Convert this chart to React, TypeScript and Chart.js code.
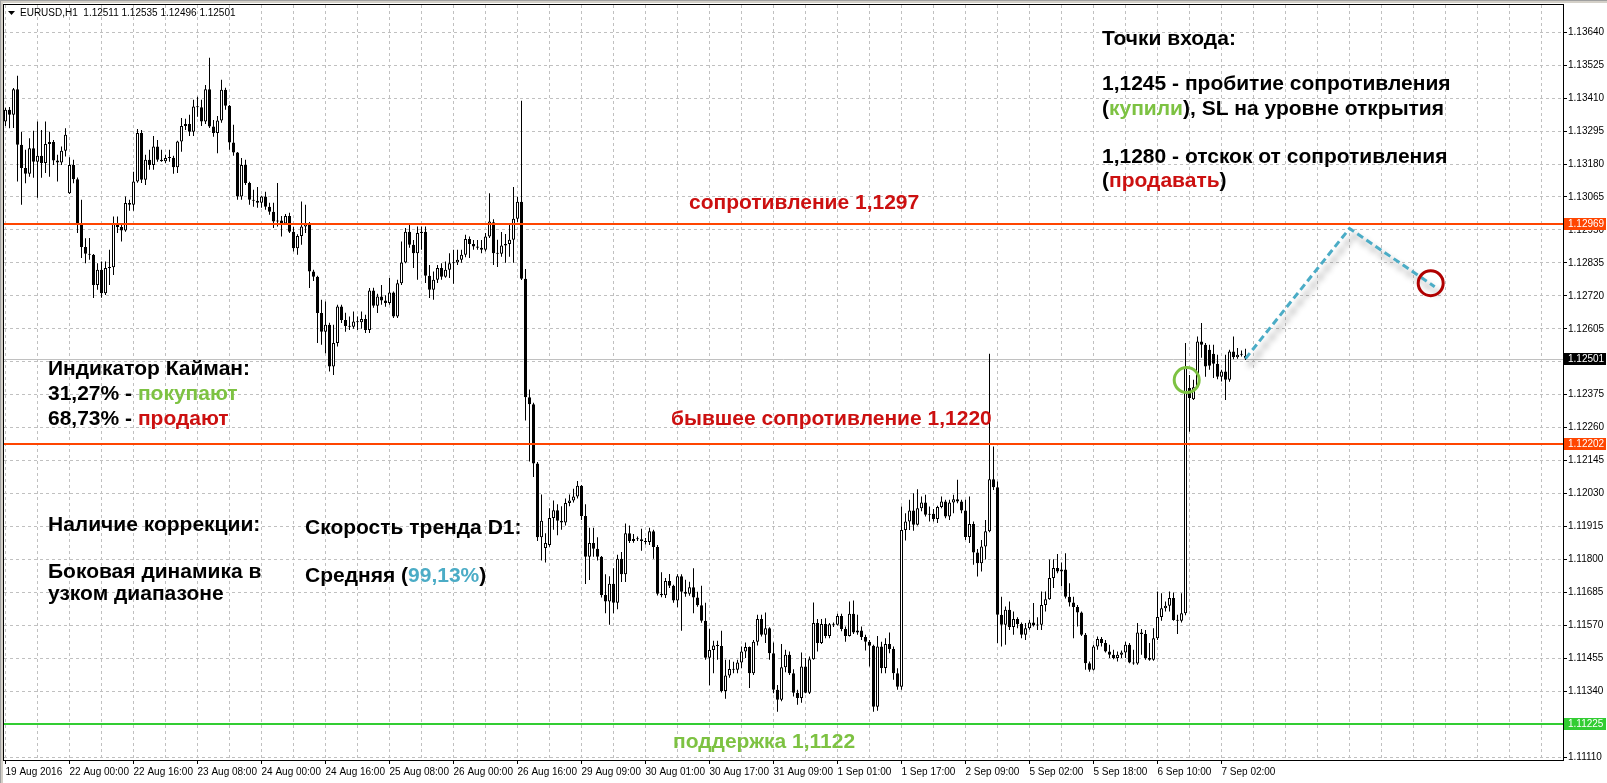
import { useEffect, useRef } from 'react';
import { Chart, registerables } from 'chart.js';

Chart.register(...registerables);

// ---- EURUSD H1 quotes ----
const symbolName = 'EURUSD,H1';

const opens = [
  1.13328,1.13369,1.13352,1.13441,1.13247,1.13166,1.13146,1.13235,1.13188,1.13209,
  1.13184,1.13250,1.13257,1.13192,1.13185,1.13226,1.13078,1.13177,1.13127,1.12974,
  1.12890,1.12867,1.12863,1.12758,1.12811,1.12729,1.12817,1.12820,1.12974,1.12960,
  1.12948,1.13044,1.13038,1.13119,1.13288,1.13125,1.13195,1.13177,1.13241,1.13195,
  1.13190,1.13201,1.13202,1.13169,1.13259,1.13313,1.13320,1.13293,1.13381,1.13378,
  1.13328,1.13441,1.13311,1.13288,1.13332,1.13439,1.13383,1.13255,1.13220,1.13067,
  1.13177,1.13114,1.13055,1.13052,1.13045,1.13067,1.13031,1.13013,1.12979,1.12983,
  1.12972,1.12999,1.12944,1.12886,1.12929,1.12962,1.12974,1.12805,1.12787,1.12660,
  1.12595,1.12619,1.12473,1.12555,1.12683,1.12636,1.12615,1.12612,1.12630,1.12628,
  1.12639,1.12601,1.12739,1.12685,1.12718,1.12704,1.12695,1.12732,1.12648,1.12764,
  1.12836,1.12944,1.12898,1.12869,1.12939,1.12944,1.12790,1.12741,1.12776,1.12817,
  1.12787,1.12811,1.12834,1.12836,1.12846,1.12863,1.12918,1.12901,1.12892,1.12888,
  1.12881,1.12927,1.12977,1.12869,1.12867,1.12896,1.12901,1.12916,1.12989,1.13048,
  1.12780,1.12366,1.12342,1.12135,1.11877,1.11840,1.11850,1.11945,1.11972,1.11935,
  1.11929,1.11997,1.12006,1.12020,1.12057,1.11952,1.11809,1.11857,1.11837,1.11809,
  1.11676,1.11653,1.11715,1.11649,1.11802,1.11748,1.11891,1.11864,1.11871,1.11870,
  1.11864,1.11861,1.11898,1.11843,1.11680,1.11675,1.11725,1.11708,1.11657,1.11741,
  1.11687,1.11680,1.11703,1.11667,1.11640,1.11586,1.11457,1.11484,1.11500,1.11498,
  1.11341,1.11395,1.11418,1.11415,1.11440,1.11479,1.11494,1.11403,1.11513,1.11592,
  1.11537,1.11560,1.11473,1.11345,1.11310,1.11424,1.11467,1.11403,1.11335,1.11316,
  1.11426,1.11335,1.11452,1.11578,1.11508,1.11575,1.11533,1.11574,1.11572,1.11603,
  1.11557,1.11533,1.11610,1.11545,1.11552,1.11529,1.11513,1.11499,1.11286,1.11496,
  1.11421,1.11505,1.11487,1.11403,1.11356,1.11903,1.11932,1.11971,1.11921,1.11979,
  1.11999,1.11956,1.11959,1.11941,1.11983,1.12002,1.11950,1.11999,1.12010,1.12002,
  1.11971,1.11878,1.11924,1.11824,1.11787,1.11845,1.11898,1.12080,1.12052,1.11607,
  1.11572,1.11624,1.11564,1.11592,1.11575,1.11537,1.11560,1.11580,1.11569,1.11572,
  1.11641,1.11661,1.11735,1.11770,1.11758,1.11765,1.11670,1.11650,1.11634,1.11615,
  1.11537,1.11438,1.11415,1.11496,1.11522,1.11508,1.11479,1.11467,1.11456,1.11467,
  1.11475,1.11502,1.11440,1.11437,1.11545,1.11540,1.11456,1.11450,1.11525,1.11599,
  1.11630,1.11638,1.11665,1.11589,1.11586,1.11612,1.12398,1.12359,1.12401,1.12561,
  1.12549,1.12532,1.12518,1.12483,1.12438,1.12456,1.12427,1.12526,1.12506,1.12514,1.12511,
];

const highs = [
  1.13376,1.13379,1.13445,1.13488,1.13293,1.13230,1.13270,1.13296,1.13328,1.13299,
  1.13328,1.13293,1.13264,1.13212,1.13241,1.13305,1.13204,1.13195,1.13133,1.13055,
  1.12921,1.12922,1.12866,1.12834,1.12840,1.12840,1.12881,1.12997,1.12997,1.12974,
  1.13067,1.13055,1.13153,1.13302,1.13299,1.13212,1.13230,1.13278,1.13264,1.13230,
  1.13212,1.13230,1.13209,1.13261,1.13341,1.13338,1.13352,1.13404,1.13415,1.13404,
  1.13456,1.13551,1.13334,1.13348,1.13474,1.13446,1.13386,1.13317,1.13222,1.13201,
  1.13195,1.13118,1.13090,1.13100,1.13069,1.13083,1.13045,1.13045,1.13114,1.12999,
  1.13006,1.13010,1.12961,1.12935,1.13049,1.13038,1.12978,1.12811,1.12790,1.12706,
  1.12700,1.12626,1.12619,1.12689,1.12689,1.12661,1.12648,1.12665,1.12648,1.12665,
  1.12654,1.12747,1.12748,1.12727,1.12758,1.12722,1.12782,1.12735,1.12776,1.12910,
  1.12957,1.12968,1.12915,1.12962,1.12962,1.12962,1.12828,1.12805,1.12828,1.12834,
  1.12840,1.12869,1.12881,1.12881,1.12881,1.12933,1.12927,1.12915,1.12915,1.12915,
  1.12939,1.13078,1.12987,1.12916,1.12943,1.12936,1.12971,1.13100,1.13066,1.13401,
  1.12814,1.12393,1.12347,1.12140,1.12027,1.11891,1.11979,1.12006,1.11993,1.11986,
  1.12013,1.12027,1.12047,1.12074,1.12060,1.11993,1.11911,1.11911,1.11877,1.11812,
  1.11748,1.11741,1.11769,1.11816,1.11826,1.11925,1.11918,1.11889,1.11880,1.11907,
  1.11875,1.11911,1.11904,1.11850,1.11755,1.11735,1.11749,1.11712,1.11748,1.11748,
  1.11729,1.11722,1.11769,1.11687,1.11708,1.11649,1.11558,1.11516,1.11516,1.11551,
  1.11450,1.11450,1.11443,1.11450,1.11496,1.11510,1.11496,1.11519,1.11607,1.11607,
  1.11615,1.11563,1.11510,1.11362,1.11505,1.11485,1.11479,1.11417,1.11345,1.11475,
  1.11456,1.11461,1.11650,1.11592,1.11592,1.11595,1.11578,1.11580,1.11610,1.11610,
  1.11566,1.11653,1.11657,1.11607,1.11566,1.11537,1.11519,1.11502,1.11533,1.11513,
  1.11525,1.11545,1.11496,1.11420,1.11985,1.11961,1.12008,1.12031,1.12045,1.12020,
  1.12026,1.11985,1.11976,1.11987,1.12020,1.12008,1.12008,1.12026,1.12078,1.12008,
  1.12008,1.12020,1.11932,1.11836,1.11868,1.11938,1.12518,1.12194,1.12072,1.11670,
  1.11636,1.11653,1.11618,1.11598,1.11580,1.11578,1.11589,1.11648,1.11598,1.11688,
  1.11688,1.11800,1.11801,1.11819,1.11789,1.11822,1.11717,1.11670,1.11641,1.11618,
  1.11543,1.11444,1.11502,1.11531,1.11529,1.11519,1.11502,1.11485,1.11479,1.11482,
  1.11513,1.11508,1.11485,1.11578,1.11557,1.11554,1.11508,1.11560,1.11688,1.11682,
  1.11653,1.11688,1.11685,1.11607,1.11682,1.12555,1.12444,1.12427,1.12578,1.12625,
  1.12555,1.12549,1.12549,1.12514,1.12462,1.12514,1.12532,1.12578,1.12538,1.12529,1.12535,
];

const lows = [
  1.13313,1.13305,1.13306,1.13119,1.13038,1.13113,1.13136,1.13132,1.13062,1.13132,
  1.13149,1.13136,1.13177,1.13119,1.13177,1.13206,1.13075,1.13113,1.12939,1.12852,
  1.12834,1.12846,1.12712,1.12741,1.12713,1.12723,1.12758,1.12793,1.12939,1.12910,
  1.12944,1.13017,1.13017,1.13115,1.13114,1.13107,1.13160,1.13160,1.13188,1.13188,
  1.13184,1.13188,1.13146,1.13149,1.13223,1.13299,1.13278,1.13278,1.13345,1.13313,
  1.13320,1.13306,1.13275,1.13218,1.13324,1.13369,1.13230,1.13209,1.13055,1.13055,
  1.13107,1.13038,1.13031,1.13027,1.13027,1.13020,1.13003,1.12957,1.12962,1.12927,
  1.12968,1.12939,1.12875,1.12863,1.12898,1.12939,1.12747,1.12772,1.12555,1.12549,
  1.12520,1.12456,1.12444,1.12543,1.12625,1.12595,1.12601,1.12605,1.12601,1.12605,
  1.12590,1.12590,1.12678,1.12660,1.12689,1.12682,1.12689,1.12643,1.12643,1.12758,
  1.12834,1.12888,1.12817,1.12776,1.12881,1.12765,1.12712,1.12706,1.12765,1.12776,
  1.12783,1.12782,1.12762,1.12828,1.12835,1.12855,1.12852,1.12881,1.12881,1.12869,
  1.12875,1.12922,1.12828,1.12821,1.12856,1.12835,1.12856,1.12835,1.12978,1.12775,
  1.12285,1.12142,1.12088,1.11864,1.11796,1.11789,1.11844,1.11904,1.11884,1.11904,
  1.11918,1.11986,1.11999,1.12013,1.11938,1.11714,1.11728,1.11809,1.11796,1.11667,
  1.11612,1.11572,1.11612,1.11626,1.11721,1.11721,1.11857,1.11858,1.11864,1.11830,
  1.11852,1.11850,1.11802,1.11674,1.11668,1.11665,1.11700,1.11649,1.11633,1.11551,
  1.11670,1.11673,1.11612,1.11635,1.11579,1.11450,1.11361,1.11403,1.11450,1.11336,
  1.11314,1.11387,1.11403,1.11403,1.11420,1.11456,1.11351,1.11397,1.11500,1.11531,
  1.11508,1.11450,1.11333,1.11268,1.11305,1.11406,1.11397,1.11322,1.11293,1.11300,
  1.11333,1.11330,1.11450,1.11479,1.11505,1.11525,1.11525,1.11564,1.11569,1.11549,
  1.11513,1.11531,1.11540,1.11537,1.11519,1.11482,1.11426,1.11268,1.11272,1.11403,
  1.11403,1.11473,1.11380,1.11345,1.11345,1.11866,1.11903,1.11900,1.11918,1.11968,
  1.11950,1.11932,1.11932,1.11927,1.11979,1.11944,1.11938,1.11961,1.11996,1.11961,
  1.11868,1.11857,1.11781,1.11740,1.11758,1.11800,1.11895,1.12042,1.11508,1.11496,
  1.11502,1.11554,1.11537,1.11560,1.11525,1.11519,1.11555,1.11566,1.11554,1.11554,
  1.11618,1.11659,1.11700,1.11752,1.11706,1.11664,1.11636,1.11525,1.11566,1.11533,
  1.11415,1.11408,1.11412,1.11485,1.11496,1.11475,1.11456,1.11452,1.11444,1.11456,
  1.11456,1.11438,1.11432,1.11432,1.11467,1.11450,1.11446,1.11446,1.11519,1.11586,
  1.11618,1.11618,1.11586,1.11540,1.11580,1.11605,1.12246,1.12356,1.12398,1.12504,
  1.12438,1.12462,1.12433,1.12429,1.12421,1.12356,1.12420,1.12499,1.12500,1.12508,1.12496,
];

const closes = [
  1.13369,1.13352,1.13441,1.13247,1.13166,1.13146,1.13235,1.13188,1.13209,1.13184,
  1.13250,1.13257,1.13192,1.13185,1.13226,1.13282,1.13177,1.13127,1.12974,1.12890,
  1.12867,1.12863,1.12758,1.12811,1.12729,1.12817,1.12820,1.12974,1.12960,1.12948,
  1.13044,1.13038,1.13119,1.13288,1.13125,1.13195,1.13177,1.13241,1.13195,1.13190,
  1.13201,1.13202,1.13169,1.13259,1.13313,1.13320,1.13293,1.13381,1.13378,1.13328,
  1.13441,1.13311,1.13288,1.13332,1.13439,1.13383,1.13255,1.13220,1.13067,1.13177,
  1.13114,1.13055,1.13052,1.13045,1.13067,1.13031,1.13013,1.12979,1.12983,1.12972,
  1.12999,1.12944,1.12886,1.12929,1.12962,1.12974,1.12805,1.12787,1.12660,1.12595,
  1.12619,1.12473,1.12555,1.12683,1.12636,1.12615,1.12612,1.12630,1.12628,1.12639,
  1.12601,1.12739,1.12685,1.12718,1.12704,1.12695,1.12732,1.12648,1.12764,1.12836,
  1.12944,1.12898,1.12869,1.12939,1.12944,1.12790,1.12741,1.12776,1.12817,1.12787,
  1.12811,1.12834,1.12836,1.12846,1.12863,1.12918,1.12901,1.12892,1.12888,1.12881,
  1.12927,1.12979,1.12869,1.12867,1.12896,1.12901,1.12916,1.12989,1.13048,1.12780,
  1.12366,1.12342,1.12135,1.11877,1.11935,1.11857,1.11945,1.11972,1.11935,1.11929,
  1.11997,1.12006,1.12020,1.12057,1.11952,1.11809,1.11857,1.11837,1.11809,1.11676,
  1.11653,1.11715,1.11649,1.11802,1.11748,1.11891,1.11864,1.11871,1.11870,1.11864,
  1.11861,1.11898,1.11843,1.11680,1.11675,1.11725,1.11708,1.11657,1.11741,1.11687,
  1.11680,1.11703,1.11667,1.11640,1.11586,1.11457,1.11484,1.11500,1.11498,1.11341,
  1.11395,1.11418,1.11415,1.11440,1.11479,1.11494,1.11403,1.11513,1.11592,1.11537,
  1.11560,1.11473,1.11345,1.11310,1.11424,1.11467,1.11403,1.11335,1.11316,1.11426,
  1.11335,1.11452,1.11578,1.11508,1.11575,1.11533,1.11574,1.11572,1.11603,1.11557,
  1.11533,1.11610,1.11545,1.11552,1.11529,1.11513,1.11499,1.11286,1.11496,1.11421,
  1.11505,1.11487,1.11403,1.11356,1.11903,1.11932,1.11971,1.11921,1.11979,1.11999,
  1.11956,1.11959,1.11941,1.11983,1.12002,1.11950,1.11999,1.12010,1.12002,1.11971,
  1.11878,1.11924,1.11824,1.11787,1.11845,1.11898,1.12080,1.12052,1.11607,1.11572,
  1.11624,1.11564,1.11592,1.11575,1.11537,1.11560,1.11580,1.11569,1.11572,1.11641,
  1.11661,1.11735,1.11770,1.11758,1.11765,1.11670,1.11650,1.11634,1.11615,1.11537,
  1.11438,1.11415,1.11496,1.11522,1.11508,1.11479,1.11467,1.11456,1.11467,1.11475,
  1.11502,1.11440,1.11437,1.11545,1.11540,1.11456,1.11450,1.11525,1.11599,1.11630,
  1.11638,1.11665,1.11589,1.11586,1.11612,1.12468,1.12363,1.12401,1.12561,1.12549,
  1.12473,1.12476,1.12483,1.12438,1.12456,1.12427,1.12526,1.12506,1.12514,1.12518,1.12501,
];

// Time axis: one caption every 16 hourly bars, a grid line every 8
const timeLabels = [
  '19 Aug 2016', '22 Aug 00:00', '22 Aug 16:00', '23 Aug 08:00', '24 Aug 00:00',
  '24 Aug 16:00', '25 Aug 08:00', '26 Aug 00:00', '26 Aug 16:00', '29 Aug 09:00',
  '30 Aug 01:00', '30 Aug 17:00', '31 Aug 09:00', '1 Sep 01:00', '1 Sep 17:00',
  '2 Sep 09:00', '5 Sep 02:00', '5 Sep 18:00', '6 Sep 10:00', '7 Sep 02:00',
];
const barsPerLabel = 16;
const barsPerGridLine = 8;

// Price axis captions
const priceTicks = [
  1.1364, 1.13525, 1.1341, 1.13295, 1.1318, 1.13065, 1.1295, 1.12835, 1.1272,
  1.12605, 1.1249, 1.12375, 1.1226, 1.12145, 1.1203, 1.11915, 1.118, 1.11685,
  1.1157, 1.11455, 1.1134, 1.11225, 1.1111,
];

// Horizontal levels
const resistanceLevel = 1.12969;
const formerResistanceLevel = 1.12202;
const supportLevel = 1.11225;

// Expected path after the last bar (bar index, price)
const projectionBars = [310, 336, 357.3];
const projectionPrices = [1.12501, 1.12955, 1.12752];

// Marked entry (breakout) and the sell zone
const entryMark = { bar: 295.3, price: 1.12426 };
const sellMark = { bar: 356.3, price: 1.12764 };

// Visible window
const firstVisibleBar = -0.375;
const lastVisibleBar = 389.375;
const priceMin = 1.111;
const priceMax = 1.13735;

const INK = '#000000';
const GREEN_TEXT = '#7DC242';
const RED_TEXT = '#CC1010';
const BLUE_TEXT = '#4BACC6';
const ORANGE_LINE = '#FF4500';
const GREEN_LINE = '#32CD32';

const AXIS_FAMILY = '"Liberation Sans", Arial, sans-serif';
const AXIS_SIZE = 10;
const NOTE_FONT = 'bold 21px "Liberation Sans", Arial, sans-serif';

type Part = [string, string];
const notes: { x: number; y: number; parts: Part[] }[] = [
  { x: 1102, y: 39, parts: [['Точки входа:', INK]] },
  { x: 1102, y: 84, parts: [['1,1245 - пробитие сопротивления', INK]] },
  { x: 1102, y: 109, parts: [['(', INK], ['купили', GREEN_TEXT], ['), SL на уровне открытия', INK]] },
  { x: 1102, y: 157, parts: [['1,1280 - отскок от сопротивления', INK]] },
  { x: 1102, y: 181, parts: [['(', INK], ['продавать', RED_TEXT], [')', INK]] },
  { x: 689, y: 203, parts: [['сопротивление 1,1297', RED_TEXT]] },
  { x: 48, y: 369, parts: [['Индикатор Кайман:', INK]] },
  { x: 48, y: 394, parts: [['31,27% - ', INK], ['покупают', GREEN_TEXT]] },
  { x: 48, y: 419, parts: [['68,73% - ', INK], ['продают', RED_TEXT]] },
  { x: 671, y: 419, parts: [['бывшее сопротивление 1,1220', RED_TEXT]] },
  { x: 48, y: 525, parts: [['Наличие коррекции:', INK]] },
  { x: 48, y: 572, parts: [['Боковая динамика в', INK]] },
  { x: 48, y: 594, parts: [['узком диапазоне', INK]] },
  { x: 305, y: 528, parts: [['Скорость тренда D1:', INK]] },
  { x: 305, y: 576, parts: [['Средняя (', INK], ['99,13%', BLUE_TEXT], [')', INK]] },
  { x: 673, y: 742, parts: [['поддержка 1,1122', GREEN_TEXT]] },
];

const PROJECTION_DATASET = 2;

function drawParts(ctx: CanvasRenderingContext2D, x: number, y: number, parts: Part[]) {
  let cx = x;
  for (const [text, color] of parts) {
    ctx.fillStyle = color;
    ctx.fillText(text, cx, y);
    cx += ctx.measureText(text).width;
  }
}

const terminalPlugin = {
  id: 'terminalOverlay',
  beforeDraw(chart: any) {
    const { ctx, width, height } = chart;
    ctx.save();
    ctx.fillStyle = '#ffffff';
    ctx.fillRect(0, 0, width, height);
    ctx.fillStyle = '#d4d0c8';
    ctx.fillRect(0, 0, width, 3);
    ctx.fillRect(0, 0, 3, height);
    ctx.fillStyle = '#a0a0a0';
    ctx.fillRect(0, 0, width, 1);
    ctx.fillRect(0, 0, 1, height);
    ctx.restore();
  },
  beforeDatasetsDraw(chart: any) {
    const { ctx, chartArea: a, scales } = chart;
    const py = Math.round(scales.y.getPixelForValue(closes[closes.length - 1])) + 0.5;
    ctx.save();
    ctx.strokeStyle = '#c0c0c0';
    ctx.lineWidth = 1;
    ctx.beginPath();
    ctx.moveTo(a.left, py);
    ctx.lineTo(a.right, py);
    ctx.stroke();
    ctx.restore();
  },
  beforeDatasetDraw(chart: any, args: any) {
    if (args.index !== PROJECTION_DATASET) return;
    const ctx = chart.ctx;
    ctx.save();
    ctx.shadowColor = 'rgba(0,0,0,0.45)';
    ctx.shadowBlur = 6;
    ctx.shadowOffsetX = 4;
    ctx.shadowOffsetY = 7;
  },
  afterDatasetDraw(chart: any, args: any) {
    if (args.index !== PROJECTION_DATASET) return;
    chart.ctx.restore();
  },
  afterDatasetsDraw(chart: any) {
    const { ctx, chartArea: a, scales } = chart;
    const levels: [number, string][] = [
      [resistanceLevel, ORANGE_LINE],
      [formerResistanceLevel, ORANGE_LINE],
      [supportLevel, GREEN_LINE],
    ];
    ctx.save();
    ctx.lineWidth = 2;
    for (const [price, color] of levels) {
      const py = Math.round(scales.y.getPixelForValue(price));
      ctx.strokeStyle = color;
      ctx.beginPath();
      ctx.moveTo(a.left, py);
      ctx.lineTo(a.right, py);
      ctx.stroke();
    }
    ctx.restore();
  },
  afterDraw(chart: any) {
    const { ctx, chartArea: a, scales, width } = chart;
    ctx.save();
    // plot frame
    ctx.strokeStyle = '#000';
    ctx.lineWidth = 1;
    ctx.strokeRect(a.left - 0.5, a.top - 0.5, a.right - a.left + 1, a.bottom - a.top + 1);

    // price tags on the axis
    const tags: [number, string][] = [
      [resistanceLevel, ORANGE_LINE],
      [formerResistanceLevel, ORANGE_LINE],
      [supportLevel, GREEN_LINE],
      [closes[closes.length - 1], '#000000'],
    ];
    ctx.font = `${AXIS_SIZE}px ${AXIS_FAMILY}`;
    ctx.textBaseline = 'middle';
    ctx.textAlign = 'left';
    for (const [price, bg] of tags) {
      const py = Math.round(scales.y.getPixelForValue(price));
      ctx.fillStyle = bg;
      ctx.fillRect(a.right + 1, py - 6, width - a.right - 2, 12);
      ctx.fillStyle = '#ffffff';
      ctx.fillText(price.toFixed(5), a.right + 5, py + 0.5);
    }

    // symbol header with the last bar's OHLC
    const last = closes.length - 1;
    ctx.fillStyle = '#000';
    ctx.beginPath();
    ctx.moveTo(8, 11);
    ctx.lineTo(15, 11);
    ctx.lineTo(11.5, 15);
    ctx.closePath();
    ctx.fill();
    ctx.font = `${AXIS_SIZE}px ${AXIS_FAMILY}`;
    ctx.fillText(
      `${symbolName}  ${opens[last].toFixed(5)} ${highs[last].toFixed(5)} ${lows[last].toFixed(5)} ${closes[last].toFixed(5)}`,
      20, 13.5,
    );

    // analyst notes
    ctx.font = NOTE_FONT;
    ctx.textBaseline = 'middle';
    for (const n of notes) drawParts(ctx, n.x, n.y, n.parts);
    ctx.restore();
  },
};

export default function App() {
  const canvasRef = useRef<HTMLCanvasElement>(null);

  useEffect(() => {
    const canvas = canvasRef.current;
    if (!canvas) return;
    document.body.style.margin = '0';

    const barIndex = closes.map((_, i) => i);
    const wickData = barIndex.map((i) => ({ x: i, y: [lows[i], highs[i]] }));
    const bodyData = barIndex.map((i) => ({ x: i, y: [opens[i], closes[i]] }));
    const bodyColors = barIndex.map((i) => (closes[i] >= opens[i] ? '#ffffff' : '#000000'));
    const projectionData = projectionBars.map((b, i) => ({ x: b, y: projectionPrices[i] }));

    const gridBars: number[] = [];
    for (let b = 0; b <= lastVisibleBar; b += barsPerGridLine) gridBars.push(b);

    const axisFont = { family: AXIS_FAMILY, size: AXIS_SIZE };

    const chart = new Chart(canvas, {
      type: 'bar',
      data: {
        datasets: [
          {
            type: 'bar',
            data: wickData as any,
            backgroundColor: '#000000',
            borderWidth: 0,
            barThickness: 1,
            grouped: false,
            inflateAmount: 0,
            order: 4,
          } as any,
          {
            type: 'bar',
            data: bodyData as any,
            backgroundColor: bodyColors,
            borderColor: '#000000',
            borderWidth: 1,
            borderSkipped: false,
            barThickness: 3,
            minBarLength: 1,
            grouped: false,
            inflateAmount: 0,
            order: 3,
          } as any,
          {
            type: 'line',
            data: projectionData as any,
            borderColor: '#4BACC6',
            borderWidth: 3,
            borderDash: [7, 4],
            pointRadius: 0,
            fill: false,
            tension: 0,
            order: 2,
          } as any,
          {
            type: 'line',
            data: [
              { x: entryMark.bar, y: entryMark.price },
              { x: sellMark.bar, y: sellMark.price },
            ] as any,
            showLine: false,
            pointRadius: 12.5,
            pointBorderWidth: 3,
            pointBorderColor: ['#7DC242', '#B00000'],
            pointBackgroundColor: 'rgba(0,0,0,0)',
            order: 1,
          } as any,
        ],
      },
      options: {
        animation: false,
        responsive: false,
        devicePixelRatio: 1,
        events: [],
        layout: { autoPadding: false, padding: { left: 4, top: 5, right: 0, bottom: 0 } },
        plugins: { legend: { display: false }, tooltip: { enabled: false } },
        scales: {
          x: {
            type: 'linear',
            position: 'bottom',
            min: firstVisibleBar,
            max: lastVisibleBar,
            offset: false,
            afterBuildTicks: (s: any) => {
              s.ticks = gridBars.map((value) => ({ value }));
            },
            afterFit: (s: any) => {
              s.height = 23;
              s.paddingLeft = 0;
              s.paddingRight = 0;
            },
            grid: {
              offset: false,
              color: '#c0c0c0',
              lineWidth: 1,
              tickLength: 4,
              tickColor: (ctx: any) => (ctx.tick && ctx.tick.label ? '#000000' : 'rgba(0,0,0,0)'),
            },
            border: { display: false, dash: [3, 3] },
            ticks: {
              autoSkip: false,
              maxRotation: 0,
              minRotation: 0,
              align: 'start',
              padding: 2,
              color: '#000000',
              font: axisFont,
              callback: (v: any) => {
                const n = Math.round(Number(v));
                return n % barsPerLabel === 0 ? timeLabels[n / barsPerLabel] ?? '' : '';
              },
            },
          } as any,
          y: {
            type: 'linear',
            position: 'right',
            min: priceMin,
            max: priceMax,
            afterBuildTicks: (s: any) => {
              s.ticks = priceTicks.map((value) => ({ value }));
            },
            afterFit: (s: any) => {
              s.width = 44;
              s.paddingTop = 0;
              s.paddingBottom = 0;
            },
            grid: {
              color: '#c0c0c0',
              lineWidth: 1,
              tickLength: 4,
              tickColor: '#000000',
            },
            border: { display: false, dash: [3, 3] },
            ticks: {
              autoSkip: false,
              padding: 1,
              color: '#000000',
              font: axisFont,
              callback: (v: any) => Number(v).toFixed(5),
            },
          } as any,
        },
      },
      plugins: [terminalPlugin as any],
    });

    return () => chart.destroy();
  }, []);

  return (
    <div style={{ position: 'fixed', left: 0, top: 0, width: 1607, height: 783, background: '#fff' }}>
      <canvas ref={canvasRef} width={1607} height={783} style={{ display: 'block', width: 1607, height: 783 }} />
    </div>
  );
}
